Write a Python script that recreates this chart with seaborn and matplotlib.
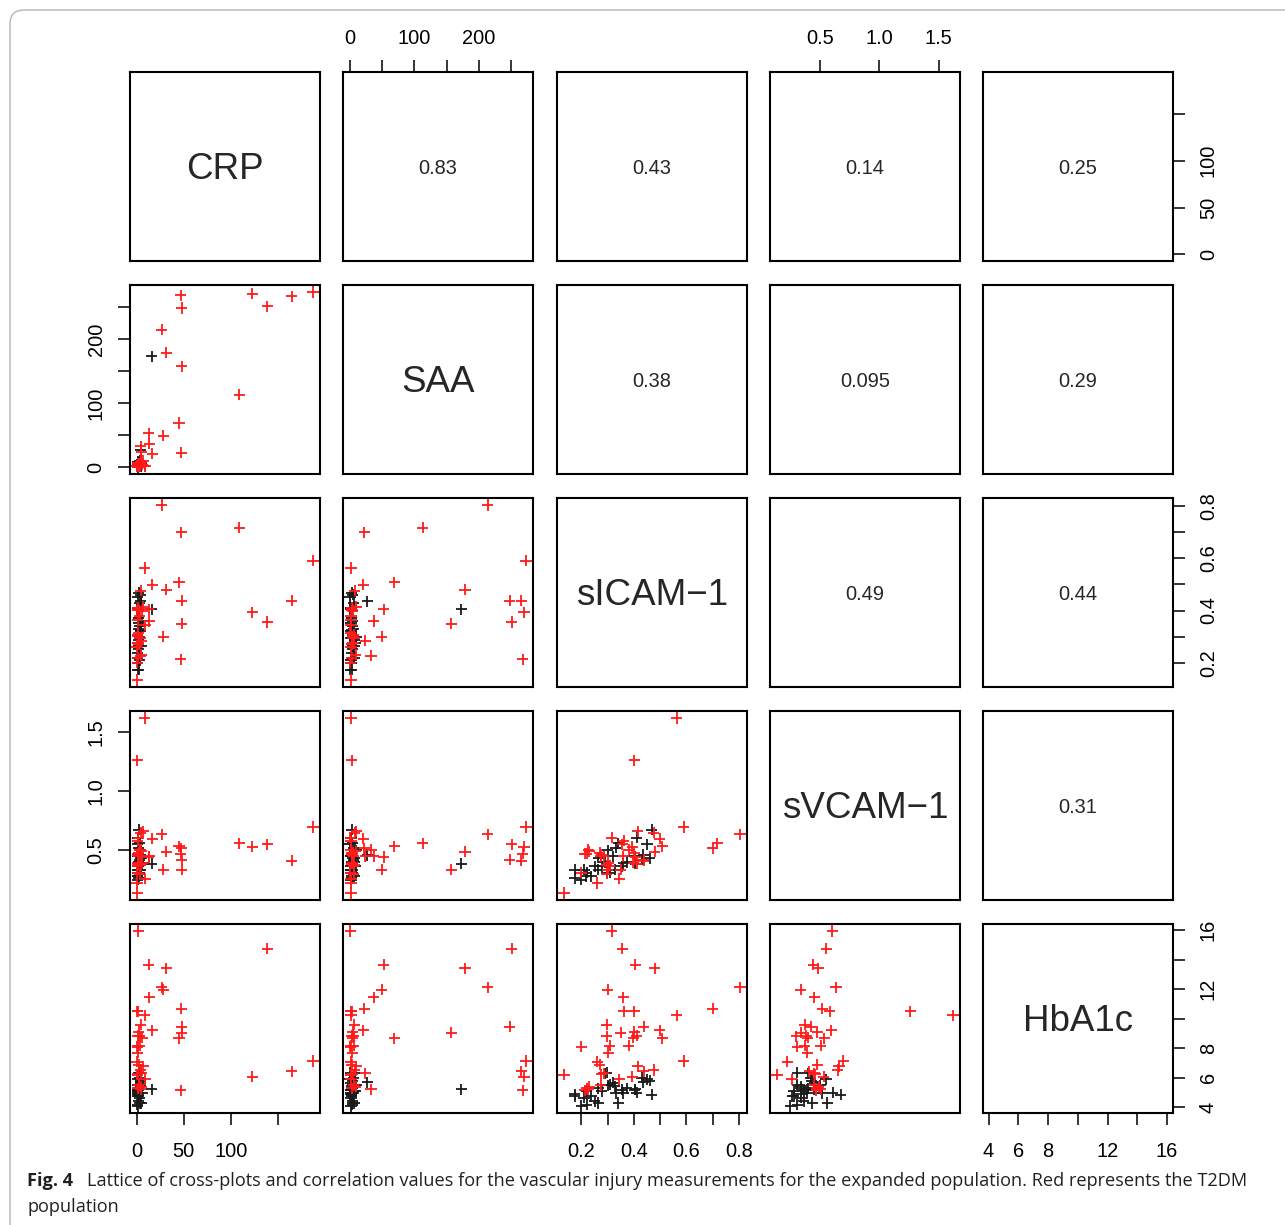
import numpy as np
import pandas as pd
import matplotlib
matplotlib.use("Agg")
import matplotlib.pyplot as plt
import seaborn as sns
from matplotlib.patches import FancyBboxPatch
from matplotlib.transforms import IdentityTransform

sns.set_style("white")
plt.rcParams["font.family"] = ["Liberation Sans", "DejaVu Sans"]

# ---------------- data ----------------
var_keys = ["CRP", "SAA", "sICAM", "sVCAM", "HbA1c"]
var_labels = ["CRP", "SAA", "sICAM\u22121", "sVCAM\u22121", "HbA1c"]

# T2DM (red)
red_crp = [187.4, 165, 139, 123, 109, 46.7, 47.8, 47.8, 44.9, 47.4, 26.7, 31.4, 28.2, 12.5, 13.2, 16.6,
           8.5, 0.4, 0.4, 1.8, 4, 4, 5, 1, 2, 1, 6, 3, 0.5, 1, 3, 0.8, 0.3, 2, 7, 4, 1, 8.8, 2, 1, 5]
red_saa = [273, 266, 251, 270, 113, 268, 248, 157, 69, 22.4, 214, 178.6, 49.5, 53, 37, 21,
           2, 3, 2, 1, 33, 7, 24, 2, 5, 3, 4, 6, 1, 6, 2, 4, 2, 3, 10, 8, 5, 2, 6, 3, 9]
red_sicam = [0.590, 0.438, 0.356, 0.394, 0.717, 0.213, 0.438, 0.350, 0.508, 0.700, 0.804, 0.479, 0.300, 0.405, 0.360, 0.499,
             0.563, 0.401, 0.134, 0.315, 0.227, 0.296, 0.285, 0.362, 0.401, 0.410, 0.397, 0.296, 0.200, 0.308, 0.380,
             0.302, 0.260, 0.270, 0.414, 0.476, 0.276, 0.344, 0.274, 0.220, 0.230]
red_svcam = [0.697, 0.410, 0.551, 0.531, 0.559, 0.469, 0.421, 0.336, 0.534, 0.517, 0.634, 0.486, 0.336, 0.443, 0.450, 0.596,
             1.619, 1.260, 0.138, 0.604, 0.505, 0.373, 0.450, 0.582, 0.478, 0.385, 0.396, 0.300, 0.308, 0.370, 0.505,
             0.393, 0.223, 0.477, 0.660, 0.650, 0.460, 0.260, 0.450, 0.470, 0.490]
red_hba1c = [7.14, 6.46, 14.73, 6.08, np.nan, 5.16, 9.46, 9.06, 8.68, 10.69, 12.14, 13.42, 11.95, 13.65, 11.46, 9.22,
             10.24, 10.5, 6.2, 15.93, 5.22, 9.6, 6.3, 10.5, 9.1, 8.85, 8.72, 8.8, 8.1, 8.16, 8.16,
             7.7, 7.08, 6.9, 6.8, 6.53, 6.24, 5.9, 5.5, 5.3, 5.4]

# Controls (black)
blk_crp = [2, 1, 3, 2, 4, 1, 2, 1, 3, 0.5, 2, 5, 1, 3, 2, 1, 4, 2, 6, 0.5, 3, 1, 2, 4, 1, 2, 3, 0.8, 16, 4]
blk_saa = [3, 2, 4, 6, 5, 1, 3, 2, 2, 4, 5, 7, 3, 1, 8, 5, 3, 2, 4, 1, 6, 9, 4, 2, 7, 3, 10, 0.5, 173, 27]
blk_sicam = [0.468, 0.410, 0.340, 0.330, 0.461, 0.174, 0.174, 0.200, 0.210, 0.220, 0.251, 0.264, 0.238, 0.296, 0.289,
             0.308, 0.327, 0.353, 0.360, 0.404, 0.430, 0.277, 0.264, 0.320, 0.219, 0.372, 0.300, 0.450, 0.405, 0.436]
blk_svcam = [0.675, 0.605, 0.560, 0.520, 0.430, 0.336, 0.265, 0.250, 0.336, 0.310, 0.364, 0.435, 0.280, 0.308, 0.400,
             0.308, 0.336, 0.364, 0.390, 0.450, 0.420, 0.364, 0.336, 0.450, 0.280, 0.400, 0.500, 0.550, 0.387, 0.460]
blk_hba1c = [4.85, 5.0, 4.3, 4.98, 5.8, 4.88, 4.75, 4.1, 4.66, 4.2, 4.43, 4.3, 4.77, 6.35, 6.3, 5.55, 5.43, 5.2, 4.98,
             5.2, 6.0, 5.1, 5.3, 5.67, 5.1, 5.3, 5.5, 5.9, 5.22, 5.7]

correlations = {(0, 1): "0.83", (0, 2): "0.43", (0, 3): "0.14", (0, 4): "0.25",
                (1, 2): "0.38", (1, 3): "0.095", (1, 4): "0.29",
                (2, 3): "0.49", (2, 4): "0.44", (3, 4): "0.31"}

tick_vals = {
    "CRP": [0, 50, 100, 150],
    "SAA": [0, 50, 100, 150, 200, 250],
    "sICAM": [0.2, 0.3, 0.4, 0.5, 0.6, 0.7, 0.8],
    "sVCAM": [0.5, 1.0, 1.5],
    "HbA1c": [4, 6, 8, 10, 12, 14, 16],
}
tick_text = {
    "CRP": ["0", "50", "100", ""],
    "SAA": ["0", "", "100", "", "200", ""],
    "sICAM": ["0.2", "", "0.4", "", "0.6", "", "0.8"],
    "sVCAM": ["0.5", "1.0", "1.5"],
    "HbA1c": ["4", "6", "8", "", "12", "", "16"],
}

caption_bold = "Fig. 4"
caption_line1 = ("Lattice of cross-plots and correlation values for the vascular injury measurements "
                 "for the expanded population. Red represents the T2DM")
caption_line2 = "population"

# ---------------- table ----------------
df = pd.concat([
    pd.DataFrame({"group": "Control", "CRP": blk_crp, "SAA": blk_saa, "sICAM": blk_sicam,
                  "sVCAM": blk_svcam, "HbA1c": blk_hba1c}),
    pd.DataFrame({"group": "T2DM", "CRP": red_crp, "SAA": red_saa, "sICAM": red_sicam,
                  "sVCAM": red_svcam, "HbA1c": red_hba1c}),
], ignore_index=True)

lims = {}
for k in var_keys:
    lo, hi = np.nanmin(df[k]), np.nanmax(df[k])
    pad = 0.04 * (hi - lo)
    lims[k] = (lo - pad, hi + pad)

palette = {"Control": "#1a1a1a", "T2DM": "#ff1a1a"}

# ---------------- layout ----------------
W, H = 1285, 1225
fig = plt.figure(figsize=(W / 100, H / 100), dpi=100)
fig.patch.set_facecolor("white")

col_x = [130, 343, 557, 770, 983]
row_y = [72, 285, 498, 711, 924]
pw, ph = 190, 189

TS = 14.4
for i in range(5):
    for j in range(5):
        ax = fig.add_axes([col_x[j] / W, 1 - (row_y[i] + ph) / H, pw / W, ph / H])
        xk, yk = var_keys[j], var_keys[i]
        if i > j:
            sns.scatterplot(data=df, x=xk, y=yk, hue="group", palette=palette, marker="+",
                            s=64, linewidth=1.3, legend=False, ax=ax)
        elif i == j:
            ax.text(0.5, 0.485, var_labels[i], transform=ax.transAxes, ha="center", va="center",
                    fontsize=26.5)
        else:
            ax.text(0.5, 0.49, correlations[(i, j)], transform=ax.transAxes, ha="center",
                    va="center", fontsize=TS)
        ax.set_xlim(lims[xk])
        ax.set_ylim(lims[yk])
        ax.set_xlabel("")
        ax.set_ylabel("")
        ax.set_xticks([])
        ax.set_yticks([])
        for sp in ax.spines.values():
            sp.set_visible(True)
            sp.set_color("black")
            sp.set_linewidth(1.5)
        ax.set_facecolor("white")

        common = dict(direction="out", length=8.6, width=1.1, labelsize=TS, colors="black")
        # top axes
        if i == 0 and j in (1, 3):
            ax.set_xticks(tick_vals[xk])
            ax.set_xticklabels(tick_text[xk])
            ax.tick_params(axis="x", top=True, bottom=False, labeltop=True, labelbottom=False,
                           pad=9, **common)
        # bottom axes
        if i == 4 and j in (0, 2, 4):
            ax.set_xticks(tick_vals[xk])
            ax.set_xticklabels(tick_text[xk])
            ax.tick_params(axis="x", top=False, bottom=True, labeltop=False, labelbottom=True,
                           pad=12, **common)
        # left axes
        if j == 0 and i in (1, 3):
            ax.set_yticks(tick_vals[yk])
            ax.set_yticklabels(tick_text[yk], rotation=90, va="center")
            ax.tick_params(axis="y", left=True, right=False, labelleft=True, labelright=False,
                           pad=9, **common)
        # right axes
        if j == 4 and i in (0, 2, 4):
            ax.set_yticks(tick_vals[yk])
            ax.set_yticklabels(tick_text[yk], rotation=90, va="center")
            ax.tick_params(axis="y", left=False, right=True, labelleft=False, labelright=True,
                           pad=10, **common)

# ---------------- caption ----------------
cap_font = ["Open Sans", "DejaVu Sans"]
cap_color = "#231f20"
y1 = 1 - 1181 / H
y2 = 1 - 1207 / H
fs = 13.0
t_b = fig.text(27 / W, y1, caption_bold, fontsize=fs, fontweight="bold", family=cap_font,
               color=cap_color, va="center", ha="left")
t_1 = fig.text(87 / W, y1, caption_line1, fontsize=fs, family=cap_font, color=cap_color,
               va="center", ha="left")
t_2 = fig.text(27 / W, y2, caption_line2, fontsize=fs, family=cap_font, color=cap_color,
               va="center", ha="left")
renderer = fig.canvas.get_renderer()
wpx = t_1.get_window_extent(renderer).width
target = 1245 - 87
fs_new = fs * target / wpx
for t in (t_b, t_1, t_2):
    t.set_fontsize(fs_new)

# rounded outer frame
frame = FancyBboxPatch((10, -30), 1320, 1215 + 30, boxstyle="round,pad=0,rounding_size=14",
                       transform=IdentityTransform(), facecolor="none", edgecolor="#b5b5b5",
                       linewidth=1.0)
fig.patches.append(frame)

fig.savefig("out.png", dpi=100, facecolor="white")
